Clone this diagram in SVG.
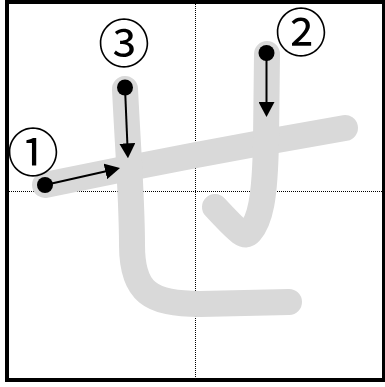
<svg xmlns="http://www.w3.org/2000/svg" width="385" height="387" viewBox="0 0 385 387">
<style>
.guide{stroke:#000;stroke-width:1;stroke-dasharray:1 1;fill:none}
.kana{fill:none;stroke:#d9d9d9;stroke-width:26;stroke-linecap:round;stroke-linejoin:round}
.arrow{fill:none;stroke:#000;stroke-width:2;marker-end:url(#head)}
.dot{fill:#000}
.num{font-family:"Noto Sans CJK JP","DejaVu Sans",sans-serif;font-size:52px;fill:#000;text-anchor:middle}
</style>
<defs>
<marker id="head" markerUnits="userSpaceOnUse" markerWidth="15" markerHeight="16" viewBox="0 0 15 16" refX="11" refY="8" orient="auto">
<path d="M0,0 L15,8 L0,16 Z" fill="#000"/>
</marker>
</defs>
<g id="guides">
<line class="guide" x1="9" y1="191.5" x2="382" y2="191.5"/>
<line class="guide" x1="195.5" y1="4" x2="195.5" y2="378"/>
</g>
<g id="stroke1"><path class="kana" d="M45,185 Q195,154 345,128"/></g>
<g id="stroke2"><path class="kana" d="M267,54 L266,140 C265,200 260,220 250,232 C245,238 240,234 215,207"/></g>
<g id="stroke3"><path class="kana" d="M125,89 C128,150 132,200 132,245 C132,292 150,304 200,304 L289,302"/></g>
<g id="connectors">
<line class="arrow" x1="45" y1="185" x2="116.1" y2="168.9"/>
<line class="arrow" x1="266.5" y1="53" x2="266.5" y2="113"/>
<line class="arrow" x1="125" y1="87.5" x2="127.8" y2="154.3"/>
</g>
<g id="dots">
<circle class="dot" cx="45" cy="185" r="8"/>
<circle class="dot" cx="266.5" cy="53" r="8"/>
<circle class="dot" cx="125" cy="87.5" r="8"/>
</g>
<g id="label1"><text class="num" x="33" y="172">①</text></g>
<g id="label2"><text class="num" x="301" y="52">②</text></g>
<g id="label3"><text class="num" x="124" y="63">③</text></g>
<rect id="frame" x="7" y="2" width="377" height="378" fill="none" stroke="#000" stroke-width="4"/>
</svg>
